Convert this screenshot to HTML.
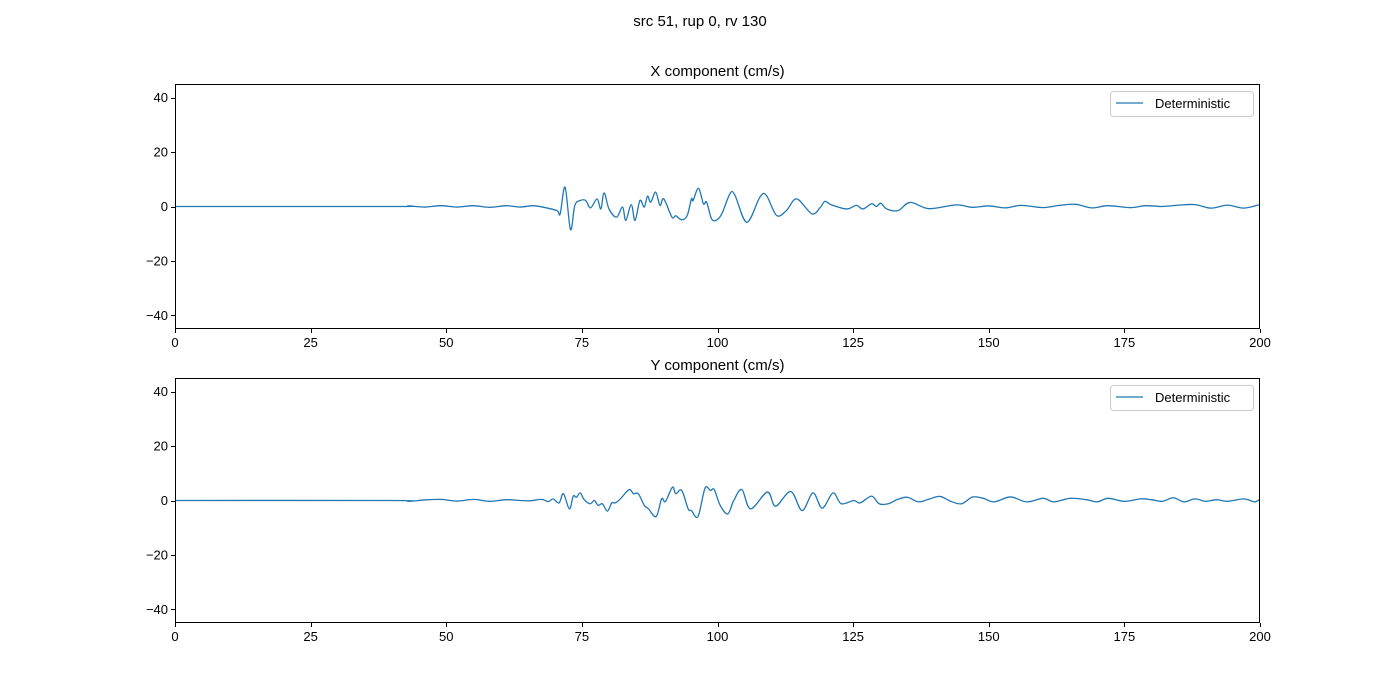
<!DOCTYPE html>
<html><head><meta charset="utf-8"><style>
html,body{margin:0;padding:0;background:#fff;}
svg{display:block;font-family:"Liberation Sans","DejaVu Sans",sans-serif;}
</style></head><body>
<svg id="chart" width="1400" height="700" viewBox="0 0 1400 700">
<text x="700" y="26" font-size="15" text-anchor="middle">src 51, rup 0, rv 130</text>
</svg>
<script>
const xTicks=[0,25,50,75,100,125,150,175,200];
const yTicks=[-40,-20,0,20,40];
const titles=["X component (cm/s)","Y component (cm/s)"];
const seriesXt=[0,40,43,46,49,52,55,58,61,63.6,66,68,70.4,71.0,71.9,72.9,73.7,74.7,75.7,76.6,77.8,78.5,79.1,80.0,81.4,82.5,83.1,84.1,84.8,85.7,86.5,87.1,87.7,88.6,89.4,90.1,91.6,92.3,93.4,94.4,95.2,95.5,96.5,97.4,98.0,98.9,99.8,100.8,102.3,103.2,105.4,107.8,109.0,110.9,112.7,114.6,117.4,119,119.8,121.0,123.8,125.6,126.8,128.4,129.3,130.1,131.2,133.3,135.5,139,144,147,150,153,156,160,163,166,169,172,176,179,182,185,188,191,194,197,200];
const seriesXv=[0,0,0.2,-0.2,0.3,-0.2,0.3,-0.3,0.3,-0.2,0.3,-0.3,-1.5,-2.7,7.1,-8.5,0.4,2.2,2.2,-0.5,2.8,-0.9,5,-0.9,-3.9,-0.2,-5.1,0.7,-5.1,2.2,-0.2,3.8,1.6,5.3,0.4,2.8,-3.9,-3.4,-4.9,-3.4,2.8,2.2,6.7,1,1.6,-4.5,-5,-2.7,4.7,4.2,-5.8,3.4,4.1,-3.3,-1.5,2.8,-2.7,-0.2,1.9,0.6,-0.9,0.4,-0.9,1,0,1.2,-0.9,-1.5,1.5,-0.8,0.6,-0.3,0.2,-0.5,0.4,-0.4,0.4,0.8,-0.5,0.3,-0.4,0.3,0,0.5,0.7,-0.6,0.5,-0.6,0.7];
const seriesYt=[0,40,43,46,49,52,55,58,61,63.6,65.5,67.6,68.8,69.7,70.8,71.6,72.7,73.4,74.0,74.7,75.4,76.5,77.3,78.0,78.8,79.7,80.5,81.1,82.0,83.7,84.5,85.4,86.5,87.3,88.7,89.7,90.4,91.7,92.3,93.4,94.6,95.2,96.4,97.7,98.7,99.4,100.5,101.9,103.0,104.5,106.1,109.2,110.7,113.5,115.6,117.6,119.3,121.3,122.8,125.1,126.3,128.4,129.8,131.5,133.2,135,137,139,141,143,145,147,149,151,154,157,160,162,165,168,170,172,175,178,180,182,184,186,188,190,192,194,197,199,200];
const seriesYv=[0,0,-0.3,0.2,0.4,-0.2,0.4,-0.3,0.3,0,-0.1,0.4,-0.4,0.6,-0.9,2.5,-3.1,1.6,1.2,2.8,0.4,-1.2,0,-1.8,-1.2,-3.9,-0.9,-0.9,0.4,4,2.5,2.5,-1.8,-3.1,-5.9,0.6,-0.4,4.9,2.5,3.7,-3.1,-3.7,-5.9,4.5,3.7,4.0,-1.8,-4.9,0,4,-3.1,3.1,-2.1,3.3,-3.7,2.8,-2.8,2.8,-1.2,0,-0.9,1.6,-1.2,-1.2,0.4,1.2,-0.5,0.5,1.5,-0.3,-1.2,1.3,0.8,-0.5,1.3,-0.5,0.8,-0.5,0.8,0.3,-0.5,0.8,-0.3,0.6,0.3,-0.3,1,-0.5,0.6,-0.3,0.3,-0.3,0.6,-0.5,0.5];
const NS="http://www.w3.org/2000/svg";
const svg=document.getElementById('chart');
const panels=[{top:84,bottom:329,t:seriesXt,v:seriesXv},{top:378,bottom:623,t:seriesYt,v:seriesYv}];
const L=175,R=1260;
function mk(tag,attrs,parent){const e=document.createElementNS(NS,tag);for(const k in attrs)e.setAttribute(k,attrs[k]);(parent||svg).appendChild(e);return e;}
panels.forEach((p,i)=>{
  const sx=t=>L+(t-0)/(200-0)*(R-L);
  const sy=v=>p.bottom-(v+45)/90*(p.bottom-p.top);
  const g=mk('g',{});
  
  
  const clipId='clip'+i;
  const cp=mk('clipPath',{id:clipId},g);mk('rect',{x:L,y:p.top,width:R-L,height:p.bottom-p.top},cp);
  let pts=p.t.map((t,j)=>[sx(t),sy(p.v[j])]);
  let d='M'+pts[0][0].toFixed(2)+','+pts[0][1].toFixed(2);
  for(let j=0;j<pts.length-1;j++){
    const p0=pts[Math.max(j-1,0)],p1=pts[j],p2=pts[j+1],p3=pts[Math.min(j+2,pts.length-1)];
    const c1=[p1[0]+(p2[0]-p0[0])/6,p1[1]+(p2[1]-p0[1])/6];
    const c2=[p2[0]-(p3[0]-p1[0])/6,p2[1]-(p3[1]-p1[1])/6];
    d+=' C'+c1[0].toFixed(2)+','+c1[1].toFixed(2)+' '+c2[0].toFixed(2)+','+c2[1].toFixed(2)+' '+p2[0].toFixed(2)+','+p2[1].toFixed(2);
  }
  const line=mk('path',{d:d,fill:'none',stroke:'#1f77b4','stroke-width':1.3,'clip-path':'url(#'+clipId+')'},g);
  
  
  const frame=mk('rect',{x:L+0.5,y:p.top+0.5,width:R-L-1,height:p.bottom-p.top-1,fill:'none',stroke:'#000','stroke-width':1},g);
  
  
  xTicks.forEach(t=>{
    const x=Math.round(sx(t))+0.5;
    mk('line',{x1:x,x2:x,y1:p.bottom,y2:p.bottom+4,stroke:'#000'},g);
    const tx=mk('text',{x:sx(t),y:p.bottom+18,'font-size':13,'text-anchor':'middle'},g);
    tx.textContent=t;
    
    
  });
  yTicks.forEach(v=>{
    const y=Math.round(sy(v))+0.5;
    mk('line',{x1:L-4,x2:L,y1:y,y2:y,stroke:'#000'},g);
    const tx=mk('text',{x:L-7,y:sy(v)+4.5,'font-size':13,'text-anchor':'end'},g);
    tx.textContent=v<0?'\u2212'+(-v):v;
    
    
  });
  const ti=mk('text',{x:(L+R)/2,y:p.top-8,'font-size':15,'text-anchor':'middle'},g);
  ti.textContent=titles[i];
  
  
  const lg=mk('g',{},g);
  
  
  mk('rect',{x:1110.5,y:p.top+7.5,width:143,height:25,rx:3,fill:'#fff',stroke:'#ccc'},lg);
  mk('line',{x1:1116,x2:1143,y1:p.top+19,y2:p.top+19,stroke:'#1f77b4','stroke-width':1.3},lg);
  const lt=mk('text',{x:1155,y:p.top+24,'font-size':13},lg);
  lt.textContent='Deterministic';
  
  
});
</script>
</body></html>
